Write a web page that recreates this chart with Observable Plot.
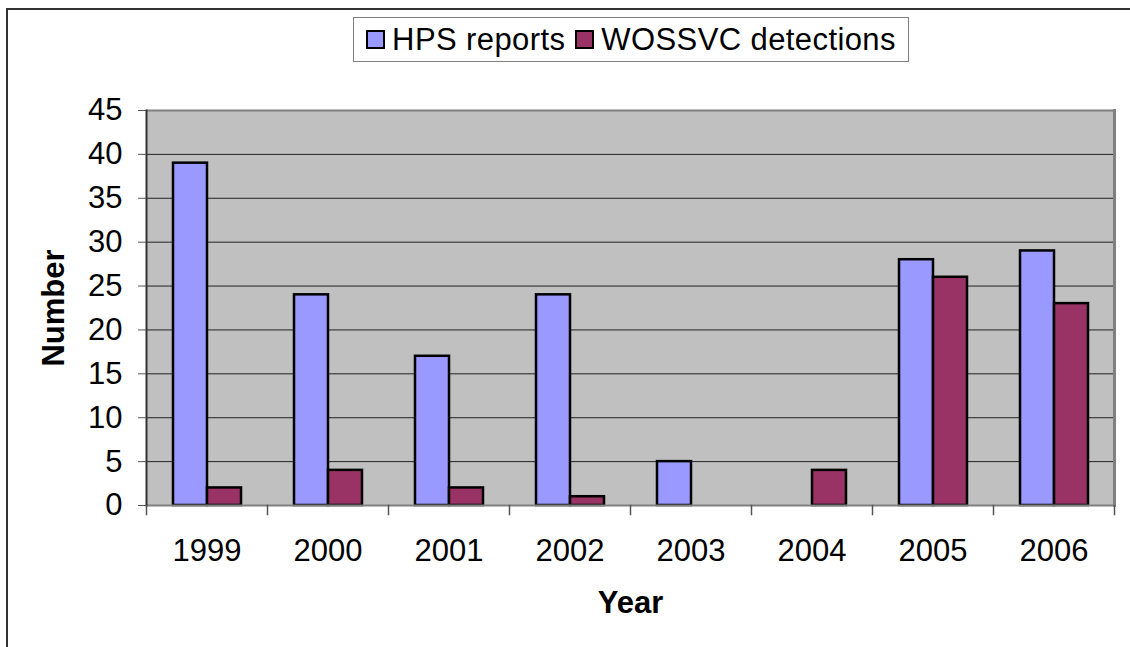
<!DOCTYPE html>
<html>
<head>
<meta charset="utf-8">
<script src="https://cdn.jsdelivr.net/npm/d3@7"></script>
<script src="https://cdn.jsdelivr.net/npm/@observablehq/plot@0.6"></script>
<style>
  body { margin: 0; background: #fff; font-family: "Liberation Sans", Arial, sans-serif; }
  #wrap { position: relative; width: 1130px; height: 647px; overflow: hidden; background: #fff; }
  #top { position: relative; height: 70px; }
  #legend { position: absolute; left: 353px; top: 17px; width: 554px; height: 43px; border: 1px solid #808080;
            display: flex; align-items: center; justify-content: center; font-size: 31px; letter-spacing: 0.4px;
            color: #000; background: #fff; white-space: nowrap; }
  .item { display: flex; align-items: center; }
  .item + .item { margin-left: 10px; }
  .sw { width: 15px; height: 15px; border: 2.5px solid #000; margin-right: 7px; }
  #border { position: absolute; left: 6px; top: 8px; width: 2000px; height: 2000px;
            border-top: 2px solid #333; border-left: 2px solid #333; pointer-events: none; }
</style>
</head>
<body>
<div id="wrap">
  <div id="top"><div id="legend"></div></div>
  <div id="chart"></div>
  <div id="border"></div>
</div>
<script>
const years = ["1999", "2000", "2001", "2002", "2003", "2004", "2005", "2006"];
const series = ["HPS reports", "WOSSVC detections"];
const hpsReports = [39, 24, 17, 24, 5, 0, 28, 29];
const wossvcDetections = [2, 4, 2, 1, 0, 4, 26, 23];
const yTicks = [0, 5, 10, 15, 20, 25, 30, 35, 40, 45];
const colors = ["#9999ff", "#993366"];
const yTitle = "Number";
const xTitle = "Year";

const data = years.flatMap((yr, i) => [
  {year: yr, series: series[0], value: hpsReports[i]},
  {year: yr, series: series[1], value: wossvcDetections[i]}
]);

// legend
const legend = document.getElementById("legend");
series.forEach((s, i) => {
  const it = document.createElement("div");
  it.className = "item";
  const sw = document.createElement("div");
  sw.className = "sw";
  sw.style.background = colors[i];
  const tx = document.createElement("span");
  tx.textContent = s;
  it.appendChild(sw); it.appendChild(tx);
  legend.appendChild(it);
});

const chart = Plot.plot({
  width: 1130,
  height: 577,
  marginLeft: 145,
  marginRight: 15,
  marginTop: 40,
  marginBottom: 142,
  style: {fontFamily: "Liberation Sans, Arial, sans-serif", fontSize: "31px", background: "transparent", overflow: "visible", color: "#000"},
  fx: {domain: years, padding: 0, label: null},
  x: {domain: series, paddingInner: 0, paddingOuter: 0.75, axis: null},
  y: {domain: [0, 45], label: null},
  color: {domain: series, range: colors},
  marks: [
    Plot.frame({fill: "#c0c0c0", stroke: "#c0c0c0", strokeWidth: 1}),
    Plot.gridY(yTicks.filter(t => t > 0 && t < 45), {stroke: "#222", strokeOpacity: 1, strokeWidth: 1}),
    Plot.barY(data, {fx: "year", x: "series", y: "value", fill: "series", stroke: "#000", strokeWidth: 2.5, filter: d => d.value > 0}),
    Plot.ruleY([45], {stroke: "#808080", strokeWidth: 2}),
    Plot.ruleY([0], {stroke: "#808080", strokeWidth: 2}),
    Plot.frame({anchor: "left", stroke: "#333", strokeWidth: 2, facetAnchor: "left"}),
    Plot.frame({anchor: "right", stroke: "#808080", strokeWidth: 3, facetAnchor: "right"}),
    Plot.frame({anchor: "left", stroke: "#555", strokeWidth: 1.5, insetTop: 395, insetBottom: -9}),
    Plot.frame({anchor: "right", stroke: "#555", strokeWidth: 1.5, insetTop: 395, insetBottom: -9, facetAnchor: "right"}),
    Plot.axisY(yTicks, {tickSize: 8, tickPadding: 16, label: null, stroke: "#555"}),
    Plot.axisFx({anchor: "bottom", tickSize: 0, tickPadding: 33, label: null}),
    Plot.text([yTitle], {frameAnchor: "left", facetAnchor: "left", rotate: -90, dx: -92, textAnchor: "middle", lineAnchor: "middle", fontWeight: "bold", fill: "#000"}),
    Plot.text([{year: years[3], t: xTitle}], {fx: "year", text: "t", frameAnchor: "bottom-right", textAnchor: "middle", lineAnchor: "middle", dy: 98, fontWeight: "bold", fill: "#000"})
  ]
});
document.getElementById("chart").appendChild(chart);
</script>
</body>
</html>
